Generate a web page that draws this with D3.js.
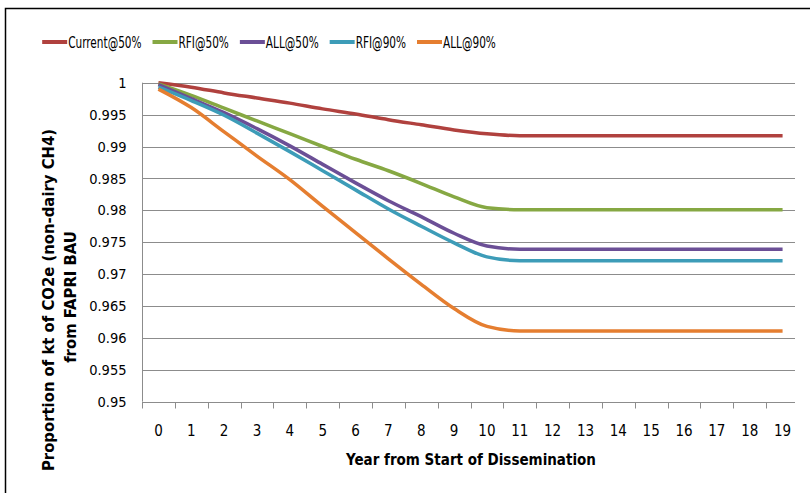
<!DOCTYPE html>
<html><head><meta charset="utf-8">
<script src="https://cdn.jsdelivr.net/npm/d3@7"></script>
<style>body{margin:0;background:#fff}svg{display:block}text{font-family:"DejaVu Sans Condensed","Open Sans",sans-serif}</style>
</head><body>
<svg id="c" width="810" height="493"></svg>
<script>
const years = [0,1,2,3,4,5,6,7,8,9,10,11,12,13,14,15,16,17,18,19];
const seriesNames = ["Current@50%","RFI@50%","ALL@50%","RFI@90%","ALL@90%"];
const seriesColors = ["#B0413E","#86A843","#6B4F96","#3D9CB8","#E57E30"];
const current50 = [1.0,0.9993,0.9984,0.9976,0.9968,0.9959,0.9951,0.9942,0.9934,0.9926,0.9920,0.9917,0.9917,0.9917,0.9917,0.9917,0.9917,0.9917,0.9917,0.9917];
const rfi50 = [0.9998,0.9980,0.9960,0.9940,0.9920,0.9900,0.9880,0.9862,0.9842,0.9821,0.9804,0.9801,0.9801,0.9801,0.9801,0.9801,0.9801,0.9801,0.9801,0.9801];
const all50 = [0.9997,0.9975,0.9953,0.9928,0.9901,0.9872,0.9843,0.9815,0.9790,0.9764,0.9744,0.9739,0.9739,0.9739,0.9739,0.9739,0.9739,0.9739,0.9739,0.9739];
const rfi90 = [0.9993,0.9972,0.9949,0.9921,0.9892,0.9862,0.9832,0.9802,0.9775,0.9749,0.9727,0.9721,0.9721,0.9721,0.9721,0.9721,0.9721,0.9721,0.9721,0.9721];
const all90 = [0.9990,0.9961,0.9923,0.9885,0.9848,0.9806,0.9765,0.9724,0.9684,0.9646,0.9618,0.9611,0.9611,0.9611,0.9611,0.9611,0.9611,0.9611,0.9611,0.9611];
const yTicks = [0.95,0.955,0.96,0.965,0.97,0.975,0.98,0.985,0.99,0.995,1];
const yTickLabels = ["0.95","0.955","0.96","0.965","0.97","0.975","0.98","0.985","0.99","0.995","1"];
const xTitle = "Year from Start of Dissemination";
const yTitle1 = "Proportion of kt of CO2e (non-dairy CH4)";
const yTitle2 = "from FAPRI BAU";

const allSeries = [current50, rfi50, all50, rfi90, all90];
const svg = d3.select("#c");
const L = 142, R = 799, T = 82.7, B = 401.7;
const x = d3.scaleBand().domain(years).range([L, R]);
const y = d3.scaleLinear().domain([0.95, 1]).range([B, T]);

// outer frame
svg.append("path").attr("d","M5.5,493 V8.5 H810").attr("fill","none").attr("stroke","#000").attr("stroke-width",1.5);

// gridlines
svg.append("g").selectAll("line").data(yTicks.slice(1)).join("line")
  .attr("x1", L).attr("x2", 795).attr("y1", d => Math.round(y(d))+0.5).attr("y2", d => Math.round(y(d))+0.5)
  .attr("stroke", "#8c8c8c").attr("stroke-width", 1.2);

// y axis
const yAxis = d3.axisLeft(y).tickValues(yTicks).tickFormat((d,i) => yTickLabels[i]).tickSize(0).tickPadding(16);
const gy = svg.append("g").attr("transform", `translate(${L+0.5},0)`).call(yAxis);
gy.select(".domain").attr("stroke","#8c8c8c").attr("d", `M0,${B}V${T}`);
gy.selectAll(".tick text").attr("font-size", 14.5).attr("fill","#000").attr("font-family",null);

// x axis: ticks between categories
const gx = svg.append("g").attr("transform", `translate(0,${Math.round(B)+0.5})`);
gx.append("line").attr("x1", L).attr("x2", 795).attr("stroke","#8c8c8c");
gx.selectAll("line.tk").data(years).join("line").attr("class","tk")
  .attr("x1", d => Math.round(x(d))+0.5).attr("x2", d => Math.round(x(d))+0.5).attr("y1",0).attr("y2",6).attr("stroke","#8c8c8c");
gx.selectAll("text").data(years).join("text")
  .attr("x", d => x(d) + x.bandwidth()/2).attr("y", 33).attr("text-anchor","middle")
  .attr("font-size", 15).attr("fill","#000").text(d => d);

// lines
const line = d3.line().x((d,i) => x(years[i]) + x.bandwidth()/2).y(d => y(d)).curve(d3.curveMonotoneX);
svg.append("g").selectAll("path").data(allSeries).join("path")
  .attr("d", line).attr("fill","none").attr("stroke",(d,i) => seriesColors[i])
  .attr("stroke-width", 3.5).attr("stroke-linejoin","round");

// legend, laid out sequentially and centred
const sx = 0.78, gap = 11;
const lg = svg.append("g").attr("transform","translate(0,42)");
const items = lg.selectAll("g").data(seriesNames).join("g");
items.append("line").attr("x1",0).attr("x2",25).attr("stroke",(d,i)=>seriesColors[i]).attr("stroke-width",4);
items.append("text").attr("transform",`translate(26,5.5) scale(${sx},1)`).attr("font-size",15).attr("fill","#000").text(d=>d);
let cx = 0; const pos = [];
items.each(function(){ const w = 26 + sx*this.querySelector("text").getComputedTextLength(); pos.push(cx); cx += w + gap; });
const total = cx - gap, start = 269 - total/2;
items.attr("transform",(d,i)=>`translate(${start+pos[i]},0)`);

// titles
svg.append("text").attr("x", 471).attr("y", 465).attr("text-anchor","middle")
  .attr("font-size", 15).attr("font-weight","bold").attr("fill","#000").text(xTitle);
svg.append("text").attr("transform","translate(54,300) rotate(-90)").attr("text-anchor","middle")
  .attr("font-size", 16.5).attr("font-weight","bold").attr("fill","#000").text(yTitle1);
svg.append("text").attr("transform","translate(76,297) rotate(-90)").attr("text-anchor","middle")
  .attr("font-size", 16.5).attr("font-weight","bold").attr("fill","#000").text(yTitle2);
</script>
</body></html>
